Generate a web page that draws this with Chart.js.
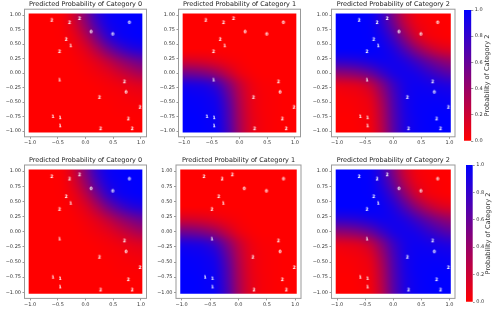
<!DOCTYPE html>
<html>
<head>
<meta charset="utf-8">
<script src="https://cdn.jsdelivr.net/npm/chart.js@4.4.1/dist/chart.umd.min.js"></script>
<style>
html, body { margin: 0; padding: 0; background: #fff; }
#wrap { position: relative; width: 498px; height: 314px; overflow: hidden; }
#wrap canvas { position: absolute; }
</style>
</head>
<body>
<div id="wrap"></div>
<script>
// grid of the predicted probability field (columns = x, rows = y from top to bottom)
const xGrid = [-1, -0.8, -0.6, -0.4, -0.2, 0, 0.2, 0.4, 0.6, 0.8, 1];
const yGrid = [1, 0.8, 0.6, 0.4, 0.2, 0, -0.2, -0.4, -0.6, -0.8, -1];

const probCat0 = [
  [0, 0, 0, 0.03, 0.2, 0.5, 0.8, 0.95, 0.99, 1, 1],
  [0, 0, 0, 0.02, 0.15, 0.4, 0.7, 0.9, 0.97, 0.99, 1],
  [0, 0, 0, 0.01, 0.08, 0.25, 0.52, 0.78, 0.92, 0.97, 0.99],
  [0, 0, 0, 0, 0.04, 0.12, 0.3, 0.52, 0.7, 0.82, 0.87],
  [0, 0, 0, 0, 0.01, 0.05, 0.12, 0.24, 0.38, 0.5, 0.58],
  [0, 0, 0, 0, 0, 0.02, 0.05, 0.1, 0.18, 0.27, 0.35],
  [0, 0, 0, 0, 0, 0, 0.01, 0.03, 0.06, 0.1, 0.13],
  [0, 0, 0, 0, 0, 0, 0, 0.01, 0.02, 0.04, 0.05],
  [0, 0, 0, 0, 0, 0, 0, 0, 0.01, 0.01, 0.02],
  [0, 0, 0, 0, 0, 0, 0, 0, 0, 0, 0],
  [0, 0, 0, 0, 0, 0, 0, 0, 0, 0, 0]
];
const probCat1 = [
  [0, 0, 0, 0, 0, 0, 0, 0, 0, 0, 0],
  [0, 0, 0, 0, 0, 0, 0, 0, 0, 0, 0],
  [0, 0, 0, 0, 0, 0, 0, 0, 0, 0, 0],
  [0, 0, 0, 0, 0, 0, 0, 0, 0, 0, 0],
  [0.18, 0.17, 0.14, 0.1, 0.05, 0.02, 0, 0, 0, 0, 0],
  [0.55, 0.53, 0.48, 0.38, 0.22, 0.08, 0.02, 0, 0, 0, 0],
  [0.9, 0.89, 0.86, 0.75, 0.5, 0.24, 0.08, 0.02, 0.01, 0, 0],
  [0.98, 0.97, 0.95, 0.88, 0.62, 0.3, 0.1, 0.03, 0.01, 0, 0],
  [0.99, 0.99, 0.97, 0.92, 0.68, 0.33, 0.11, 0.03, 0.01, 0, 0],
  [1, 1, 0.98, 0.94, 0.7, 0.35, 0.12, 0.04, 0.01, 0, 0],
  [1, 1, 0.99, 0.95, 0.72, 0.36, 0.12, 0.04, 0.01, 0, 0]
];
const probCat2 = [
  [1, 1, 1, 0.97, 0.8, 0.5, 0.2, 0.05, 0.01, 0, 0],
  [1, 1, 1, 0.98, 0.85, 0.6, 0.3, 0.1, 0.03, 0.01, 0],
  [1, 1, 1, 0.99, 0.92, 0.75, 0.48, 0.22, 0.08, 0.03, 0.01],
  [1, 1, 1, 1, 0.96, 0.88, 0.7, 0.48, 0.3, 0.18, 0.13],
  [0.82, 0.83, 0.86, 0.9, 0.94, 0.93, 0.88, 0.76, 0.62, 0.5, 0.42],
  [0.45, 0.47, 0.52, 0.62, 0.78, 0.9, 0.93, 0.9, 0.82, 0.73, 0.65],
  [0.1, 0.11, 0.14, 0.25, 0.5, 0.76, 0.91, 0.95, 0.93, 0.9, 0.87],
  [0.02, 0.03, 0.05, 0.12, 0.38, 0.7, 0.9, 0.96, 0.97, 0.96, 0.95],
  [0.01, 0.01, 0.03, 0.08, 0.32, 0.67, 0.89, 0.97, 0.98, 0.99, 0.98],
  [0, 0, 0.02, 0.06, 0.3, 0.65, 0.88, 0.96, 0.99, 1, 1],
  [0, 0, 0.01, 0.05, 0.28, 0.64, 0.88, 0.96, 0.99, 1, 1]
];

// labelled sample points
const pointX = [-0.61, -0.29, -0.11, 0.79, 0.10, 0.49, -0.35, -0.27, -0.47, -0.47, 0.70, 0.73, 0.25, 0.98, -0.59, -0.46, -0.46, 0.77, 0.27, 0.84];
const pointY = [0.91, 0.87, 0.94, 0.87, 0.71, 0.67, 0.58, 0.47, 0.37, -0.12, -0.15, -0.33, -0.42, -0.59, -0.75, -0.77, -0.91, -0.79, -0.96, -0.96];
const pointLabel = ['2', '2', '2', '0', '0', '0', '2', '1', '2', '1', '2', '0', '2', '2', '1', '1', '1', '2', '2', '2'];

const xTicks = [-1, -0.5, 0, 0.5, 1];
const yTicks = [-1, -0.75, -0.5, -0.25, 0, 0.25, 0.5, 0.75, 1];
const cbTicks = [0, 0.2, 0.4, 0.6, 0.8, 1];

const titles = ['Predicted Probability of Category 0', 'Predicted Probability of Category 1', 'Predicted Probability of Category 2'];
const cbLabel = 'Probability of Category 2';

const FONT = 'DejaVu Sans';
const TEXT = '#333';
const LINE = '#999';

const wrap = document.getElementById('wrap');
function addCanvas(x0, y0, w, h) {
  const c = document.createElement('canvas');
  c.width = w; c.height = h;
  c.style.left = x0 + 'px'; c.style.top = y0 + 'px';
  c.style.width = w + 'px'; c.style.height = h + 'px';
  wrap.appendChild(c);
  return c;
}

function minusFmt(v, d) {
  return v < 0 ? '\u2212' + Math.abs(v).toFixed(d) : v.toFixed(d);
}

// tiny white digits used as point markers
const digitImg = {};
['0', '1', '2'].forEach(d => {
  const c = document.createElement('canvas');
  c.width = 6; c.height = 7;
  const g = c.getContext('2d');
  g.fillStyle = '#fff';
  g.font = 'bold 4.6px "' + FONT + '"';
  g.textAlign = 'center';
  g.textBaseline = 'middle';
  g.fillText(d, 3, 3.6);
  digitImg[d] = c;
});

const heatmapPlugin = {
  id: 'heatmap',
  beforeDatasetsDraw(chart, args, opts) {
    const probs = opts.probs;
    if (!probs) return;
    const xs = chart.scales.x, ys = chart.scales.y;
    const off = document.createElement('canvas');
    off.width = xGrid.length; off.height = yGrid.length;
    const octx = off.getContext('2d');
    const img = octx.createImageData(off.width, off.height);
    for (let j = 0; j < yGrid.length; j++) {
      for (let i = 0; i < xGrid.length; i++) {
        const p = probs[j][i];
        const k = (j * xGrid.length + i) * 4;
        img.data[k] = Math.round(255 * (1 - p));
        img.data[k + 1] = 0;
        img.data[k + 2] = Math.round(255 * p);
        img.data[k + 3] = 255;
      }
    }
    octx.putImageData(img, 0, 0);
    const half = (xGrid[1] - xGrid[0]) / 2;
    const ctx = chart.ctx;
    ctx.save();
    const cl = xs.getPixelForValue(-1.025), cr = xs.getPixelForValue(1.025);
    const ct = ys.getPixelForValue(1.025), cb = ys.getPixelForValue(-1.025);
    ctx.beginPath();
    ctx.rect(cl, ct, cr - cl, cb - ct);
    ctx.clip();
    ctx.imageSmoothingEnabled = true;
    ctx.imageSmoothingQuality = 'high';
    const l = xs.getPixelForValue(xGrid[0] - half), r = xs.getPixelForValue(xGrid[xGrid.length - 1] + half);
    const t = ys.getPixelForValue(yGrid[0] + half), b = ys.getPixelForValue(yGrid[yGrid.length - 1] - half);
    ctx.drawImage(off, l, t, r - l, b - t);
    ctx.restore();
  }
};

const framePlugin = {
  id: 'frame',
  afterDraw(chart, args, opts) {
    const a = chart.chartArea;
    const ctx = chart.ctx;
    ctx.save();
    ctx.strokeStyle = LINE;
    ctx.lineWidth = 1;
    ctx.strokeRect(a.left, a.top, a.right - a.left, a.bottom - a.top);
    if (opts.title) {
      ctx.fillStyle = '#222';
      ctx.font = '6.5px "' + FONT + '"';
      ctx.textAlign = 'center';
      ctx.textBaseline = 'alphabetic';
      ctx.fillText(opts.title, (a.left + a.right) / 2, a.top - 3.3);
    }
    ctx.restore();
  }
};

function makePanel(x0, y0, w, h, box, probs, title) {
  const [L, T, R, B] = box;
  const canvas = addCanvas(x0, y0, w, h);
  const tickFont = { family: FONT, size: 5 };
  new Chart(canvas, {
    type: 'scatter',
    data: {
      datasets: [{
        data: pointX.map((x, i) => ({ x: x, y: pointY[i] })),
        pointStyle: ctx => digitImg[pointLabel[ctx.dataIndex]],
        pointRadius: 3
      }]
    },
    options: {
      responsive: false,
      animation: false,
      events: [],
      layout: { padding: { left: 0, top: T - y0, right: x0 + w - R, bottom: y0 + h - B - 12 } },
      plugins: {
        legend: { display: false },
        tooltip: { enabled: false },
        heatmap: { probs: probs },
        frame: { title: title }
      },
      scales: {
        x: {
          type: 'linear', min: -1.1, max: 1.1,
          afterBuildTicks: s => { s.ticks = xTicks.map(v => ({ value: v })); },
          afterFit: s => { s.height = 12; },
          grid: { drawOnChartArea: false, drawTicks: true, tickLength: 2, tickColor: LINE },
          border: { display: false },
          ticks: { font: tickFont, color: TEXT, padding: 1, maxRotation: 0, callback: v => minusFmt(v, 1) }
        },
        y: {
          type: 'linear', min: -1.1, max: 1.1,
          afterBuildTicks: s => { s.ticks = yTicks.map(v => ({ value: v })); },
          afterFit: s => { s.width = L - x0; },
          grid: { drawOnChartArea: false, drawTicks: true, tickLength: 2, tickColor: LINE },
          border: { display: false },
          ticks: { font: tickFont, color: TEXT, padding: 1.5, callback: v => minusFmt(v, 2) }
        }
      }
    },
    plugins: [heatmapPlugin, framePlugin]
  });
}

const cbLabelPlugin = {
  id: 'cbLabel',
  afterDraw(chart) {
    const a = chart.chartArea;
    const ctx = chart.ctx;
    ctx.save();
    ctx.translate(a.right + 16, (a.top + a.bottom) / 2);
    ctx.rotate(-Math.PI / 2);
    ctx.fillStyle = TEXT;
    ctx.font = '6.6px "' + FONT + '"';
    ctx.textAlign = 'center';
    ctx.textBaseline = 'middle';
    ctx.fillText(cbLabel, 0, 0);
    ctx.restore();
  }
};

function makeColorbar(x0, y0, w, h, box) {
  const [L, T, R, B] = box;
  const canvas = addCanvas(x0, y0, w, h);
  new Chart(canvas, {
    type: 'bar',
    data: {
      labels: [''],
      datasets: [{
        data: [[0, 1]],
        categoryPercentage: 1,
        barPercentage: 1,
        borderWidth: 0,
        backgroundColor: c => {
          const a = c.chart.chartArea;
          if (!a) return 'blue';
          const g = c.chart.ctx.createLinearGradient(0, a.bottom, 0, a.top);
          g.addColorStop(0, 'rgb(255,0,0)');
          g.addColorStop(1, 'rgb(0,0,255)');
          return g;
        }
      }]
    },
    options: {
      responsive: false,
      animation: false,
      events: [],
      layout: { padding: { left: L - x0, top: T - y0, right: x0 + w - R - 14, bottom: y0 + h - B } },
      plugins: { legend: { display: false }, tooltip: { enabled: false } },
      scales: {
        x: { display: false },
        y: {
          position: 'right', min: 0, max: 1,
          afterBuildTicks: s => { s.ticks = cbTicks.map(v => ({ value: v })); },
          afterFit: s => { s.width = 14; },
          grid: { drawOnChartArea: false, drawTicks: true, tickLength: 2, tickColor: LINE },
          border: { display: false },
          ticks: { font: { family: FONT, size: 5 }, color: TEXT, padding: 1.5, callback: v => v.toFixed(1) }
        }
      }
    },
    plugins: [cbLabelPlugin]
  });
}

const cats = [probCat0, probCat1, probCat2];

// top row
makePanel(0, 0, 152, 150, [24.5, 9.2, 146.5, 136.8], cats[0], titles[0]);
makePanel(152, 0, 154, 150, [178.5, 9.2, 300.5, 136.8], cats[1], titles[1]);
makePanel(306, 0, 154, 150, [331.5, 9.2, 457.5, 136.8], cats[2], titles[2]);
makeColorbar(460, 0, 38, 150, [464, 10, 471.3, 141]);

// bottom row
makePanel(0, 150, 152, 164, [24.5, 165, 146.5, 298.4], cats[0], titles[0]);
makePanel(152, 150, 154, 164, [176, 165, 302, 298.4], cats[1], titles[1]);
makePanel(306, 150, 154, 164, [331.5, 165, 458, 298.4], cats[2], titles[2]);
makeColorbar(460, 150, 38, 164, [466, 165, 472.7, 302]);
</script>
</body>
</html>
